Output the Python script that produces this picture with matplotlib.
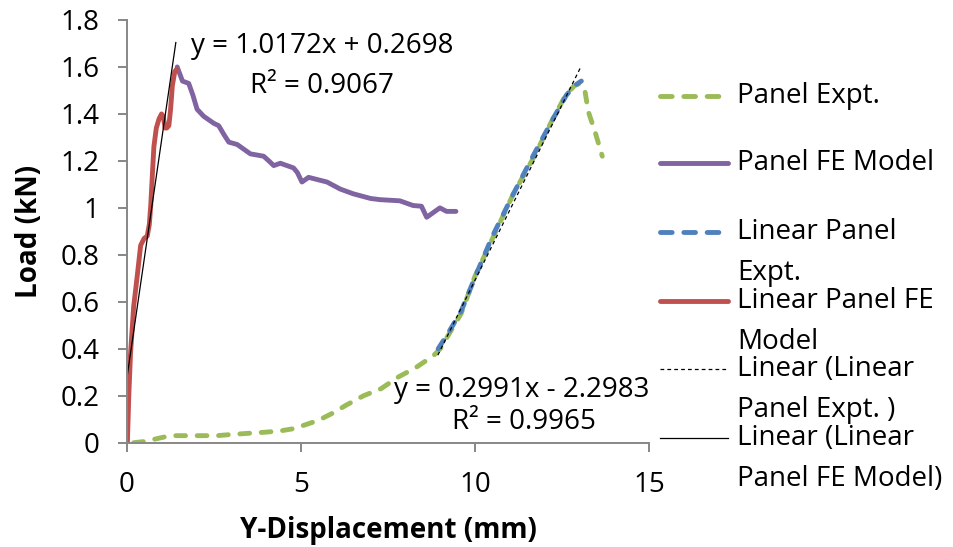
import numpy as np
import matplotlib
matplotlib.use("Agg")
import matplotlib.pyplot as plt
from matplotlib.lines import Line2D

plt.rcParams['font.family'] = ['Open Sans', 'DejaVu Sans']

# Panel Expt. (full experimental curve)
expt_x = [0.2, 0.5, 0.8, 1.1, 1.4, 1.8, 2.2, 2.6, 3.0, 3.5, 4.0, 4.4, 4.8, 5.1, 5.5,
          5.9, 6.3, 6.8, 7.3, 7.8, 8.3, 8.8, 9.0, 9.2, 9.6, 10.0, 10.5, 11.1, 11.7,
          12.2, 12.6, 12.85, 13.0, 13.15, 13.25, 13.45, 13.65]
expt_y = [0.0, 0.005, 0.015, 0.025, 0.03, 0.03, 0.03, 0.03, 0.035, 0.04, 0.045, 0.05,
          0.06, 0.075, 0.095, 0.125, 0.16, 0.2, 0.23, 0.28, 0.32, 0.37, 0.40, 0.45,
          0.55, 0.71, 0.87, 1.06, 1.22, 1.37, 1.48, 1.52, 1.53, 1.50, 1.41, 1.32, 1.22]

# Panel FE Model (post-peak part)
fe_x = [1.45, 1.6, 1.78, 1.9, 2.02, 2.21, 2.5, 2.64, 2.8, 2.93, 3.17, 3.55, 3.93, 4.08,
        4.22, 4.41, 4.79, 4.9, 5.03, 5.22, 5.75, 6.13, 6.5, 7.0, 7.27, 7.84, 8.22, 8.46,
        8.61, 8.8, 8.99, 9.18, 9.45]
fe_y = [1.60, 1.54, 1.53, 1.48, 1.42, 1.39, 1.36, 1.35, 1.31, 1.28, 1.27, 1.23, 1.22,
        1.20, 1.18, 1.19, 1.17, 1.15, 1.11, 1.13, 1.11, 1.08, 1.06, 1.04, 1.035, 1.03,
        1.01, 1.007, 0.96, 0.98, 1.00, 0.985, 0.985]

# Linear Panel Expt.
lin_expt_x = [8.94, 9.2, 9.6, 10.04, 10.5, 11.1, 11.66, 12.24, 12.62, 12.85, 13.05]
lin_expt_y = [0.40, 0.46, 0.56, 0.72, 0.88, 1.06, 1.22, 1.38, 1.48, 1.52, 1.54]

# Linear Panel FE Model
lin_fe_x = [0.02, 0.06, 0.11, 0.2, 0.31, 0.4, 0.5, 0.59, 0.65, 0.69, 0.74, 0.78, 0.85,
            0.93, 1.0, 1.05, 1.1, 1.15, 1.21, 1.26, 1.31, 1.38, 1.43]
lin_fe_y = [0.0, 0.2, 0.38, 0.58, 0.72, 0.84, 0.87, 0.88, 0.93, 1.01, 1.15, 1.26, 1.34,
            1.38, 1.40, 1.39, 1.34, 1.34, 1.35, 1.42, 1.52, 1.58, 1.59]

# trendline coefficients (from the chart labels)
fit_expt = (0.2991, -2.2983, 0.9965)
fit_fe = (1.0172, 0.2698, 0.9067)
fit_expt_range = (8.93, 13.02)
fit_fe_range = (0.0, 1.41)

GREEN = '#9BBB59'
PURPLE = '#8064A2'
BLUE = '#4F81BD'
RED = '#C0504D'
AXIS = '#878787'
FS = 20

W, H = 954, 547
fig = plt.figure(figsize=(W / 100, H / 100), dpi=100)
ax = fig.add_axes([126.7 / W, 1 - 442.7 / H, (649.3 - 126.7) / W, (442.7 - 20) / H])

ax.plot(expt_x, expt_y, color=GREEN, lw=3.5, dashes=(2.0, 2.4),
        dash_capstyle='round', solid_joinstyle='round')
ax.plot(fe_x, fe_y, color=PURPLE, lw=3.5, solid_capstyle='round', solid_joinstyle='round')
ax.plot(lin_expt_x, lin_expt_y, color=BLUE, lw=3.5, dashes=(2.0, 2.4),
        dash_capstyle='round')
ax.plot(lin_fe_x, lin_fe_y, color=RED, lw=3.5, solid_capstyle='round', solid_joinstyle='round')

xe = np.array(fit_expt_range)
ax.plot(xe, fit_expt[0] * xe + fit_expt[1], color='black', lw=0.9, dashes=(3, 2.5))
xf = np.array(fit_fe_range)
ax.plot(xf, fit_fe[0] * xf + fit_fe[1], color='black', lw=0.9)

ax.text(5.6, 1.69, f"y = {fit_fe[0]:.4f}x + {fit_fe[1]:.4f}", fontsize=FS,
        ha='center', va='center')
ax.text(5.6, 1.52, f"R² = {fit_fe[2]:.4f}", fontsize=FS, ha='center', va='center')
ax.text(11.33, 0.225, f"y = {fit_expt[0]:.4f}x - {abs(fit_expt[1]):.4f}", fontsize=FS,
        ha='center', va='center')
ax.text(11.4, 0.09, f"R² = {fit_expt[2]:.4f}", fontsize=FS, ha='center', va='center')

ax.set_xlim(0, 15)
ax.set_ylim(0, 1.8)
ax.set_xticks([0, 5, 10, 15])
ax.set_yticks(np.arange(0, 1.81, 0.2))
ax.set_yticklabels(['0', '0.2', '0.4', '0.6', '0.8', '1', '1.2', '1.4', '1.6', '1.8'])
for s in ['top', 'right']:
    ax.spines[s].set_visible(False)
for s in ['left', 'bottom']:
    ax.spines[s].set_color(AXIS)
    ax.spines[s].set_linewidth(1.4)
ax.tick_params(axis='both', direction='out', length=6.5, width=1.4, color=AXIS,
               labelsize=FS)
ax.tick_params(axis='y', pad=13)
ax.tick_params(axis='x', pad=14)
ax.set_xlabel('Y-Displacement (mm)', fontsize=FS, fontweight='bold', labelpad=12)
ax.set_ylabel('Load (kN)', fontsize=FS, fontweight='bold', labelpad=12)

# legend, drawn in figure pixels (Excel style, handle next to first line)
legend_items = [
    (96, 'Panel Expt.', dict(color=GREEN, lw=3.5, dashes=(2.4, 2.4), dash_capstyle='round')),
    (163, 'Panel FE Model', dict(color=PURPLE, lw=3.5, solid_capstyle='round')),
    (232, 'Linear Panel\nExpt.', dict(color=BLUE, lw=3.5, dashes=(2.4, 2.4), dash_capstyle='round')),
    (301, 'Linear Panel FE\nModel', dict(color=RED, lw=3.5, solid_capstyle='round')),
    (369, 'Linear (Linear\nPanel Expt. )', dict(color='black', lw=0.9, dashes=(3, 2.5))),
    (438, 'Linear (Linear\nPanel FE Model)', dict(color='black', lw=0.9)),
]
for ypx, label, style in legend_items:
    fig.add_artist(Line2D([660 / W, 728 / W], [1 - ypx / H, 1 - ypx / H],
                          transform=fig.transFigure, **style))
    fig.text(737 / W, 1 - (ypx - 14) / H, label, fontsize=FS, ha='left', va='top',
             linespacing=1.6)

fig.savefig('out.png', dpi=100)
